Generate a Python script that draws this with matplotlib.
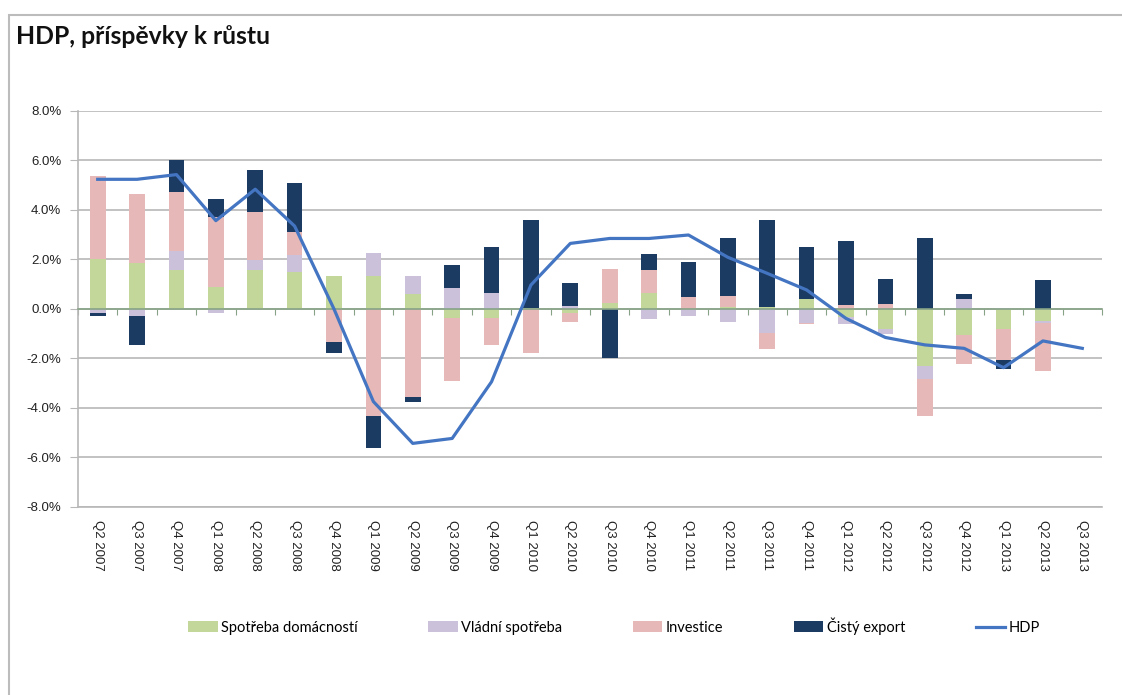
import numpy as np
import matplotlib.pyplot as plt
from matplotlib.patches import Rectangle
from matplotlib.ticker import FuncFormatter

quarters = ['Q2 2007', 'Q3 2007', 'Q4 2007', 'Q1 2008', 'Q2 2008', 'Q3 2008', 'Q4 2008',
            'Q1 2009', 'Q2 2009', 'Q3 2009', 'Q4 2009', 'Q1 2010', 'Q2 2010', 'Q3 2010',
            'Q4 2010', 'Q1 2011', 'Q2 2011', 'Q3 2011', 'Q4 2011', 'Q1 2012', 'Q2 2012',
            'Q3 2012', 'Q4 2012', 'Q1 2013', 'Q2 2013', 'Q3 2013']
nan = np.nan
spotreba = [2.02, 1.85, 1.56, 0.90, 1.56, 1.51, 1.32, 1.32, 0.61, -0.38, -0.38, 0.05, -0.17,
            0.23, 0.63, 0.02, 0.09, 0.09, 0.39, -0.34, -0.81, -2.30, -1.05, -0.81, -0.48, nan]
vladni = [-0.17, -0.28, 0.80, -0.17, 0.42, 0.66, 0.0, 0.94, 0.71, 0.84, 0.66, 0.0, 0.12,
          0.0, -0.40, -0.27, -0.51, -0.98, -0.58, -0.27, -0.21, -0.54, 0.39, 0.03, -0.07, nan]
investice = [3.35, 2.81, 2.35, 2.80, 1.94, 0.94, -1.35, -4.32, -3.57, -2.53, -1.07, -1.77, -0.34,
             1.37, 0.93, 0.45, 0.42, -0.65, -0.04, 0.16, 0.20, -1.47, -1.16, -1.25, -1.94, nan]
cisty_export = [-0.10, -1.17, 1.29, 0.73, 1.68, 1.98, -0.42, -1.31, -0.19, 0.95, 1.84, 3.53, 0.94,
                -1.97, 0.66, 1.42, 2.36, 3.49, 2.11, 2.57, 1.03, 2.88, 0.23, -0.38, 1.18, nan]
hdp = [5.24, 5.24, 5.43, 3.57, 4.84, 3.35, 0.0, -3.74, -5.43, -5.23, -2.94, 0.97, 2.65, 2.85,
       2.85, 2.99, 2.09, 1.44, 0.77, -0.38, -1.15, -1.45, -1.59, -2.37, -1.29, -1.59]

series = [('Spotřeba domácností', spotreba, '#c4d79b'),
          ('Vládní spotřeba', vladni, '#ccc1da'),
          ('Investice', investice, '#e6b9b8'),
          ('Čistý export', cisty_export, '#1c3b62')]

grid_c = '#b8b8b8'
zero_c = '#86a386'
tick_font = 'Liberation Sans'

fig = plt.figure(figsize=(11.22, 6.95), dpi=100)
ax = fig.add_axes([78 / 1122, 1 - 507 / 695, 1024 / 1122, 396 / 695])

x = np.arange(len(quarters))
pos_base = np.zeros(len(x))
neg_base = np.zeros(len(x))
for name, vals, color in series:
    v = np.nan_to_num(np.array(vals, dtype=float))
    base = np.where(v >= 0, pos_base, neg_base)
    ax.bar(x, v, 0.4, bottom=base, color=color, label=name, zorder=2)
    pos_base += np.clip(v, 0, None)
    neg_base += np.clip(v, None, 0)

ax.plot(x, hdp, color='#4375c2', lw=2.3, label='HDP', zorder=3)

ax.set_xlim(-0.5, len(x) - 0.5)
ax.set_ylim(-8, 8)
ax.set_yticks(np.arange(-8, 9, 2))
ax.yaxis.set_major_formatter(FuncFormatter(lambda v, p: f'{v:.1f}%'))
ax.yaxis.grid(True, color=grid_c, lw=1.2)
ax.set_axisbelow(True)
ax.tick_params(axis='y', length=6, color=grid_c, labelsize=9.5, pad=6, labelcolor='#222222')
for lab in ax.get_yticklabels():
    lab.set_family(tick_font)

ax.spines['top'].set_visible(False)
ax.spines['right'].set_visible(False)
ax.spines['left'].set_color(grid_c)
ax.spines['left'].set_linewidth(1.2)
ax.spines['bottom'].set_position(('data', 0))
ax.spines['bottom'].set_color(zero_c)
ax.spines['bottom'].set_linewidth(1.2)
ax.set_xticks(np.arange(-0.5, len(x), 1))
ax.tick_params(axis='x', length=4, color=zero_c, labelbottom=False)

sec = ax.secondary_xaxis('bottom')
sec.set_xticks(x, quarters)
sec.tick_params(length=0, pad=9, labelsize=9.5, labelcolor='#222222')
for lab in sec.get_xticklabels():
    lab.set_rotation(-90)
    lab.set_family(tick_font)
    lab.set_va('top')
sec.spines['bottom'].set_color(grid_c)
sec.spines['bottom'].set_linewidth(1.2)

fig.text(16 / 1122, 1 - 37 / 695, 'HDP, příspěvky k růstu', fontsize=17.8, weight='bold',
         family='Lato', va='center', ha='left', color='#111111')

fig.add_artist(Rectangle((8.5 / 1122, -0.1), 1.2, 1 - 15 / 695 + 0.1, transform=fig.transFigure,
                         fill=False, edgecolor='#bcbcbc', lw=1.5))

handles, labels = ax.get_legend_handles_labels()
order = [labels.index(s[0]) for s in series] + [labels.index('HDP')]
fig.legend([handles[i] for i in order], [labels[i] for i in order],
           loc='center', bbox_to_anchor=(614 / 1122, 1 - 626 / 695), ncol=5, frameon=False,
           prop={'family': 'Lato', 'size': 10.5}, handlelength=2.05, handleheight=0.75,
           handletextpad=0.25, columnspacing=4.8)

fig.savefig('out.png', dpi=100)
